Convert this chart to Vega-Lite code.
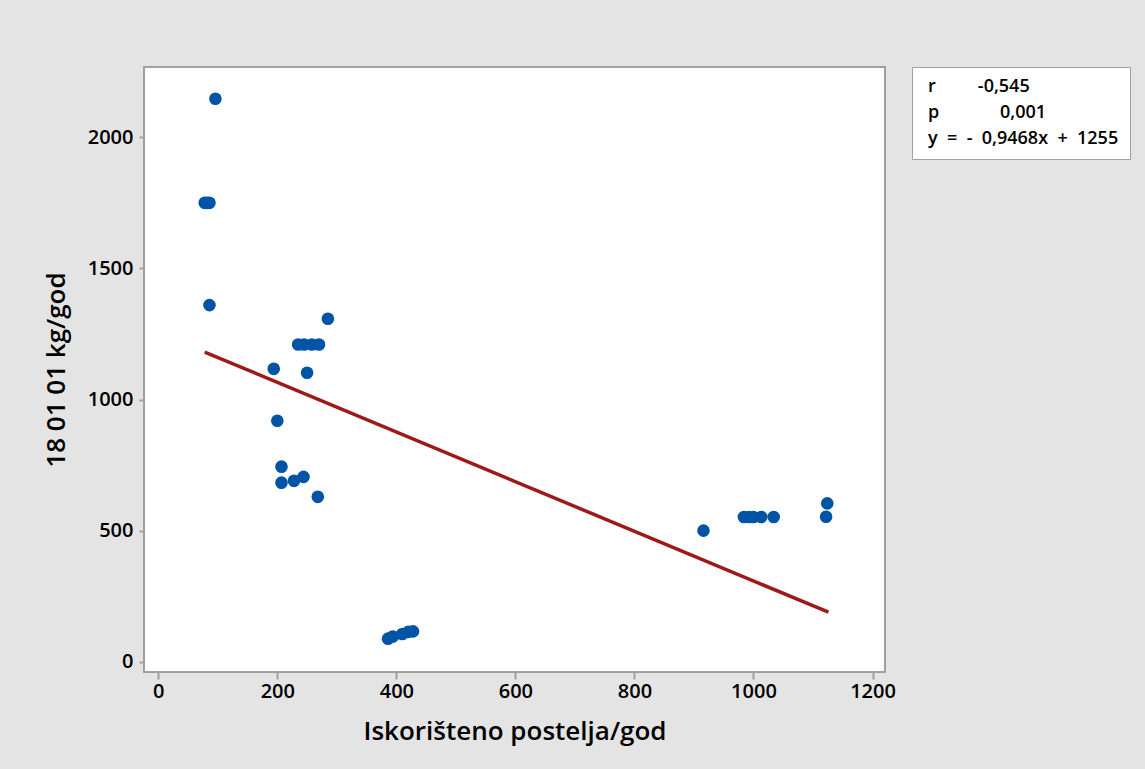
{
  "$schema": "https://vega.github.io/schema/vega-lite/v6.json",
  "width": 741,
  "height": 605,
  "autosize": {"type": "none"},
  "padding": {"left": 144, "top": 67, "right": 260, "bottom": 97},
  "background": "#e4e4e4",
  "view": {"fill": "#ffffff", "stroke": "#a0a0a0", "strokeWidth": 2},
  "config": {
    "font": "Open Sans",
    "view": {"stroke": "#a0a0a0", "strokeWidth": 2, "fill": "#ffffff"}
  },
  "datasets": {
    "points": [
      {"beds": 96, "waste": 2147},
      {"beds": 78, "waste": 1750},
      {"beds": 82, "waste": 1750},
      {"beds": 86, "waste": 1750},
      {"beds": 86, "waste": 1360},
      {"beds": 285, "waste": 1308},
      {"beds": 235, "waste": 1210},
      {"beds": 245, "waste": 1210},
      {"beds": 258, "waste": 1210},
      {"beds": 270, "waste": 1210},
      {"beds": 194, "waste": 1117},
      {"beds": 250, "waste": 1102},
      {"beds": 200, "waste": 919},
      {"beds": 207, "waste": 744},
      {"beds": 207, "waste": 683},
      {"beds": 228, "waste": 690},
      {"beds": 244, "waste": 705},
      {"beds": 268, "waste": 629},
      {"beds": 386, "waste": 88},
      {"beds": 394, "waste": 96},
      {"beds": 410, "waste": 106},
      {"beds": 420, "waste": 114},
      {"beds": 428, "waste": 116},
      {"beds": 916, "waste": 500},
      {"beds": 984, "waste": 552},
      {"beds": 992, "waste": 552},
      {"beds": 1000, "waste": 552},
      {"beds": 1013, "waste": 552},
      {"beds": 1034, "waste": 552},
      {"beds": 1122, "waste": 553},
      {"beds": 1124, "waste": 604}
    ],
    "fit": [
      {"beds": 78, "waste": 1181},
      {"beds": 1126, "waste": 189}
    ],
    "stats": [
      {"stat": "r\u00a0\u00a0\u00a0\u00a0\u00a0\u00a0\u00a0\u00a0\u00a0-0,545"},
      {"stat": "p\u00a0\u00a0\u00a0\u00a0\u00a0\u00a0\u00a0\u00a0\u00a0\u00a0\u00a0\u00a0\u00a00,001"},
      {"stat": "y\u00a0\u00a0=\u00a0\u00a0-\u00a0\u00a00,9468x\u00a0\u00a0+\u00a0\u00a01255"}
    ]
  },
  "layer": [
    {
      "data": {"name": "points"},
      "mark": {"type": "circle", "size": 160, "opacity": 1, "color": "#0054a5"},
      "encoding": {
        "x": {
          "field": "beds",
          "type": "quantitative",
          "scale": {"domain": [-24, 1221], "nice": false, "zero": false},
          "axis": {
            "title": "Iskorišteno postelja/god",
            "values": [0, 200, 400, 600, 800, 1000, 1200],
            "format": "d",
            "domain": false,
            "grid": false,
            "tickColor": "#a0a0a0",
            "tickWidth": 2,
            "tickSize": 7,
            "labelFontSize": 20,
            "labelFontWeight": 600,
            "labelColor": "#000000",
            "labelPadding": 2,
            "titleFontSize": 26,
            "titleFontWeight": 600,
            "titleColor": "#000000",
            "titlePadding": 17
          }
        },
        "y": {
          "field": "waste",
          "type": "quantitative",
          "scale": {"domain": [-39, 2268], "nice": false, "zero": false},
          "axis": {
            "title": "18 01 01 kg/god",
            "values": [0, 500, 1000, 1500, 2000],
            "format": "d",
            "domain": false,
            "grid": false,
            "tickColor": "#a0a0a0",
            "tickWidth": 2,
            "tickSize": 5,
            "labelFontSize": 20,
            "labelFontWeight": 600,
            "labelColor": "#000000",
            "labelPadding": 6,
            "titleFontSize": 26,
            "titleFontWeight": 600,
            "titleColor": "#000000",
            "titlePadding": 18
          }
        }
      }
    },
    {
      "data": {"name": "fit"},
      "mark": {"type": "line", "color": "#9c1a1a", "strokeWidth": 3.5},
      "encoding": {
        "x": {"field": "beds", "type": "quantitative"},
        "y": {"field": "waste", "type": "quantitative"}
      }
    },
    {
      "data": {"name": "stats"},
      "mark": {"type": "point", "opacity": 0},
      "encoding": {
        "shape": {
          "field": "stat",
          "type": "nominal",
          "sort": null,
          "legend": {
            "title": null,
            "orient": "none",
            "legendX": 768,
            "legendY": 0,
            "fillColor": "#ffffff",
            "strokeColor": "#a0a0a0",
            "padding": 11,
            "cornerRadius": 0,
            "symbolSize": 0,
            "symbolOpacity": 0,
            "symbolStrokeWidth": 0,
            "labelOffset": -13,
            "labelFont": "Open Sans",
            "labelFontSize": 18,
            "labelFontWeight": 600,
            "labelColor": "#000000",
            "labelLimit": 400,
            "rowPadding": 8
          }
        }
      }
    }
  ]
}
